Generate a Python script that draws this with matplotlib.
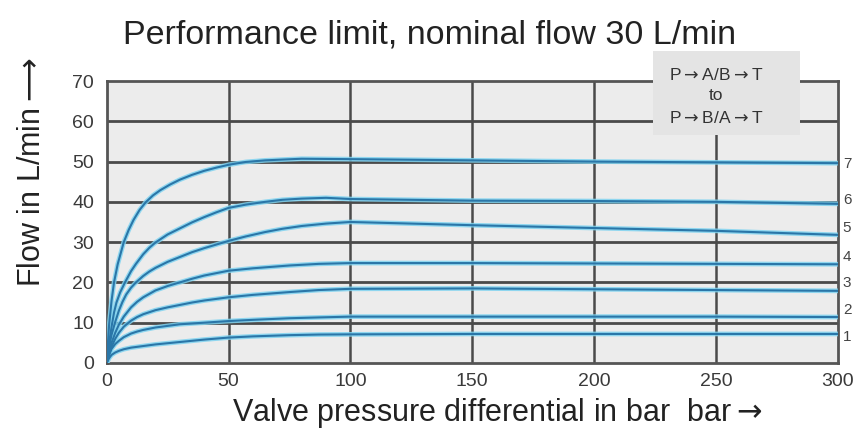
import matplotlib
matplotlib.use("Agg")
import matplotlib.pyplot as plt
from matplotlib.patches import Rectangle

plt.rcParams['font.family'] = ['Liberation Sans', 'DejaVu Sans']
plt.rcParams['mathtext.fontset'] = 'dejavusans'

title = "Performance limit, nominal flow 30 L/min"
xlabel = "Valve pressure differential in bar  bar$\\rightarrow$"
ylabel = "Flow in L/min$\\longrightarrow$"
xticks = [0, 50, 100, 150, 200, 250, 300]
yticks = [0, 10, 20, 30, 40, 50, 60, 70]
curve_labels = ["1", "2", "3", "4", "5", "6", "7"]
box_lines = ["P$\\rightarrow$A/B$\\rightarrow$T", "to", "P$\\rightarrow$B/A$\\rightarrow$T"]

p7 = [0, 0.5, 1, 2, 3, 4.5, 7, 9, 11, 13.5, 16, 19, 22, 26, 30, 35, 40, 45, 50, 57, 65, 80, 100, 150, 200, 250, 300]
q7 = [0, 5, 9.5, 15.5, 20, 24.5, 30, 33, 35.5, 38, 39.9, 41.6, 42.9, 44.3, 45.5, 46.7, 47.7, 48.5, 49.2, 49.9, 50.3, 50.7, 50.6, 50.3, 50.0, 49.8, 49.6]
p6 = [0, 1, 2, 3, 4, 5.5, 7.5, 10, 12, 15, 17.5, 20, 25, 30, 35, 40, 45, 50, 57, 65, 72, 80, 90, 100, 150, 200, 250, 300]
q6 = [0, 5, 9, 12.5, 15, 17.5, 20, 22.8, 24.6, 27.0, 28.6, 29.9, 31.9, 33.4, 34.9, 36.2, 37.4, 38.5, 39.3, 40.0, 40.5, 40.8, 41.0, 40.7, 40.3, 40.2, 40.0, 39.5]
p5 = [0, 1, 2, 3.5, 5, 6.5, 8, 10, 12, 15, 17.5, 20, 25, 30, 35, 40, 45, 50, 57, 65, 72, 80, 90, 100, 125, 150, 200, 250, 300]
q5 = [0, 4, 7, 10.2, 13, 15.2, 17, 18.7, 20, 21.6, 22.7, 23.6, 25.1, 26.3, 27.5, 28.5, 29.4, 30.3, 31.4, 32.5, 33.3, 34.0, 34.6, 35.0, 34.6, 34.2, 33.5, 32.8, 31.8]
p4 = [0, 1, 2, 3.5, 5, 7, 10, 12.5, 15, 20, 25, 30, 35, 40, 45, 50, 60, 75, 87, 100, 150, 200, 250, 300]
q4 = [0, 2.8, 5, 7.5, 9.5, 11.5, 13.8, 15.2, 16.3, 18, 19.1, 20, 20.9, 21.7, 22.3, 22.9, 23.5, 24.2, 24.6, 24.8, 24.8, 24.7, 24.6, 24.5]
p3 = [0, 1, 2, 3.5, 5, 7, 10, 12.5, 15, 20, 25, 30, 35, 40, 45, 50, 60, 75, 87, 100, 150, 200, 250, 300]
q3 = [0, 2.2, 4, 6, 7.5, 9, 10.5, 11.4, 12.1, 13.1, 13.8, 14.4, 15, 15.5, 15.9, 16.3, 16.9, 17.6, 18.1, 18.4, 18.5, 18.3, 18.1, 17.9]
p2 = [0, 1, 2, 3.5, 5, 7, 10, 12.5, 15, 20, 25, 30, 40, 50, 60, 75, 87, 100, 150, 200, 250, 300]
q2 = [0, 2, 3.5, 4.7, 5.5, 6.4, 7.3, 7.8, 8.2, 8.8, 9.2, 9.6, 10.0, 10.4, 10.7, 11.1, 11.3, 11.5, 11.5, 11.5, 11.5, 11.4]
p1 = [0, 1, 2, 3.5, 5, 7, 10, 15, 20, 25, 30, 40, 50, 60, 75, 87, 100, 150, 200, 250, 300]
q1 = [0, 1.2, 2, 2.6, 3, 3.4, 3.8, 4.2, 4.6, 4.9, 5.2, 5.8, 6.3, 6.6, 6.9, 7.05, 7.1, 7.2, 7.2, 7.2, 7.2]

curves = [(p1, q1), (p2, q2), (p3, q3), (p4, q4), (p5, q5), (p6, q6), (p7, q7)]
label_y = [6.5, 13.2, 19.9, 26.4, 33.6, 40.5, 49.3]

fig = plt.figure(figsize=(8.55, 4.41), dpi=100)
fig.patch.set_facecolor('white')
ax = fig.add_axes([0.1248, 0.177, 0.8552, 0.6393])
ax.set_facecolor('#ececec')
ax.set_xlim(0, 300)
ax.set_ylim(0, 70)

grid_c = '#4a4a4a'
for yv in yticks[1:-1]:
    ax.axhline(yv, color=grid_c, lw=2.0, zorder=1)
for xv in xticks[1:-1]:
    ax.axvline(xv, color=grid_c, lw=1.8, zorder=1)

for p, q in curves:
    ax.plot(p, q, color='#7fd3f0', lw=3.4, alpha=0.85, zorder=3,
            solid_capstyle='round', solid_joinstyle='round')
    ax.plot(p, q, color='#2a76a8', lw=1.5, zorder=4,
            solid_capstyle='round', solid_joinstyle='round')

for s in ax.spines.values():
    s.set_color('#555555')
    s.set_linewidth(2.0)

ax.set_xticks(xticks)
ax.set_yticks(yticks)
ax.tick_params(length=0, labelsize=14, colors='#3a3a3a')
ax.tick_params(axis='x', pad=7)
ax.tick_params(axis='y', pad=9)

# Box in upper right
box = Rectangle((224, 56.7), 60.6, 20.7, facecolor='#e4e4e4', edgecolor='none',
                zorder=5, clip_on=False)
ax.add_patch(box)
ax.text(250, 71.6, box_lines[0], ha='center', va='center', fontsize=12.5, color='#333333', zorder=6)
ax.text(250, 66.3, box_lines[1], ha='center', va='center', fontsize=12.5, color='#333333', zorder=6)
ax.text(250, 60.9, box_lines[2], ha='center', va='center', fontsize=12.5, color='#333333', zorder=6)

for lab, yv in zip(curve_labels, label_y):
    ax.text(302, yv, lab, ha='left', va='center', fontsize=11, color='#444444', clip_on=False)

fig.text(430 / 855, 1 - 35 / 441, title, ha='center', va='center', fontsize=24.5, color='#222222')
fig.text(497 / 855, 1 - 413 / 441, xlabel, ha='center', va='center', fontsize=22, color='#222222')
fig.text(32 / 855, 1 - 172 / 441, ylabel, ha='center', va='center', fontsize=22, color='#222222', rotation=90)

fig.savefig('out.png', dpi=100)
